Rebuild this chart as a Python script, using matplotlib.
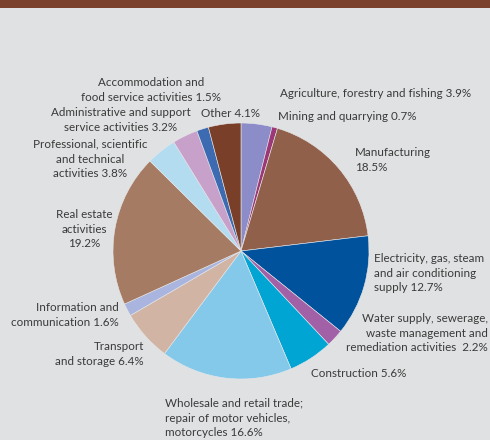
import matplotlib.pyplot as plt
from matplotlib.patches import Rectangle

plt.rcParams['font.family'] = ['Lato', 'DejaVu Sans']

# share of gross value added by sector (%), clockwise from 12 o'clock
sectors = ['Agriculture, forestry and fishing', 'Mining and quarrying', 'Manufacturing',
           'Electricity, gas, steam and air conditioning supply',
           'Water supply, sewerage, waste management and remediation activities',
           'Construction', 'Wholesale and retail trade; repair of motor vehicles, motorcycles',
           'Transport and storage', 'Information and communication', 'Real estate activities',
           'Professional, scientific and technical activities',
           'Administrative and support service activities',
           'Accommodation and food service activities', 'Other']
shares = [3.9, 0.7, 18.5, 12.7, 2.2, 5.6, 16.6, 6.4, 1.6, 19.2, 3.8, 3.2, 1.5, 4.1]
colors = ['#8b8cc8', '#9c3877', '#90604a', '#00529c', '#a261a6', '#00a5d4', '#84c9ea',
          '#d1b4a4', '#a9b5de', '#a57b63', '#b3dcf1', '#c8a1cb', '#3d6bb1', '#7a3f29']

labels = ['Agriculture, forestry and fishing 3.9%',
          'Mining and quarrying 0.7%',
          'Manufacturing\n18.5%',
          'Electricity, gas, steam\nand air conditioning\nsupply 12.7%',
          'Water supply, sewerage,\nwaste management and\nremediation activities  2.2%',
          'Construction 5.6%',
          'Wholesale and retail trade;\nrepair of motor vehicles,\nmotorcycles 16.6%',
          'Transport\nand storage 6.4%',
          'Information and\ncommunication 1.6%',
          'Real estate\nactivities\n19.2%',
          'Professional, scientific\nand technical\nactivities 3.8%',
          'Administrative and support\nservice activities 3.2%',
          'Accommodation and\nfood service activities 1.5%',
          'Other 4.1%']

W, H = 490, 440
fig = plt.figure(figsize=(W / 100, H / 100), dpi=100)
fig.patch.set_facecolor('#e0e1e3')
ax = fig.add_axes([0, 0, 1, 1])

# header strip
ax.add_patch(Rectangle((0, H - 8), W, 8, color='#7b402b', lw=0))

ax.pie(shares, colors=colors, startangle=90, counterclock=False,
       center=(241, H - 251), radius=128, frame=True,
       wedgeprops=dict(edgecolor='#e8e8ea', linewidth=0.4))
ax.set_xlim(0, W)
ax.set_ylim(0, H)
ax.set_aspect('auto')
ax.axis('off')

# label anchors in pixels from top-left: x, y, horizontal alignment
label_pos = [(280, 93, 'left'), (278, 116, 'left'), (355, 160, 'left'),
             (374, 273, 'left'), (488, 333, 'right'), (311, 373, 'left'),
             (165, 418, 'left'), (144, 354, 'right'), (119, 315, 'right'),
             (84, 229, 'center'), (90, 159, 'center'), (121, 120, 'center'),
             (151, 90, 'center'), (201, 113, 'left')]

for txt, (x, y, ha) in zip(labels, label_pos):
    ax.text(x, H - y, txt, ha=ha, va='center', multialignment=ha,
            fontsize=8.4, color='#3a3a3a', linespacing=1.42)

fig.savefig('out.png', dpi=100, facecolor=fig.get_facecolor())
